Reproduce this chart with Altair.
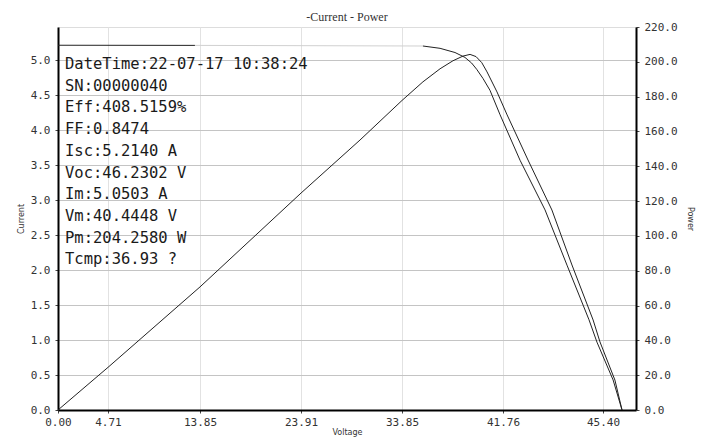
import altair as alt
import pandas as pd

# ---- axis ticks (voltage labels as printed) ----
volt_ticks = [0.00, 4.71, 13.85, 23.91, 33.85, 41.76, 45.40]
# the instrument plots by sample, so the voltage axis is piecewise between labels
x_dom = [0.00, 4.71, 13.85, 23.91, 33.85, 41.76, 45.40, 46.84]
x_rng = [0, 50, 142, 243, 344, 445, 545, 578]

cur_ticks = [0.0, 0.5, 1.0, 1.5, 2.0, 2.5, 3.0, 3.5, 4.0, 4.5, 5.0]
pow_ticks = [0, 20, 40, 60, 80, 100, 120, 140, 160, 180, 200, 220]

# ---- current curve (I-V) ----
cur_v = [0.00, 13.35, 13.35, 35.49, 35.49, 36.83, 38.00, 38.78, 39.30, 39.70, 40.19,
         40.74, 41.53, 42.38, 43.29, 44.09, 44.89, 45.18, 45.84, 46.23]
cur_i = [5.214, 5.212, 5.212, 5.203, 5.203, 5.17, 5.11, 5.04, 4.96, 4.87, 4.74,
         4.57, 4.22, 3.57, 2.86, 2.07, 1.29, 0.97, 0.43, 0.00]
cur_seg = ["A", "A", "B", "B", "C", "C", "C", "C", "C", "C", "C",
           "C", "C", "C", "C", "C", "C", "C", "C", "C"]

# ---- power curve (P-V) ----
pow_v = [0.00, 4.71, 13.85, 23.91, 29.72, 33.85, 35.49, 36.83, 37.84, 38.63, 39.18,
         39.65, 40.10, 40.51, 41.29, 41.91, 42.67, 43.54, 44.27, 45.04, 45.29, 45.92, 46.23]
pow_p = [0.0, 24.5, 70.7, 124.6, 155.1, 177.8, 188.5, 196.0, 200.6, 203.3, 204.26,
         203.0, 199.5, 194.2, 182.7, 169.5, 143.6, 114.9, 83.3, 51.7, 39.1, 17.2, 0.0]

info_lines = [
    "DateTime:22-07-17 10:38:24",
    "SN:00000040",
    "Eff:408.5159%",
    "FF:0.8474",
    "Isc:5.2140 A",
    "Voc:46.2302 V",
    "Im:5.0503 A",
    "Vm:40.4448 V",
    "Pm:204.2580 W",
    "Tcmp:36.93 ?",
]

cur_df = pd.DataFrame({"V": cur_v, "I": cur_i, "seg": cur_seg})
pow_df = pd.DataFrame({"V": pow_v, "P": pow_p})
txt_df = pd.DataFrame({"t": ["\n".join(info_lines)]})

LABEL_FONT = "DejaVu Sans Mono"
axis_common = dict(
    labelFont=LABEL_FONT, labelFontSize=11, labelColor="#333333",
    titleFont="DejaVu Sans", titleFontSize=8, titleFontWeight="normal", titleColor="#333333",
    domainColor="black", domainWidth=2, tickColor="#444444", tickSize=3,
)

X = alt.X(
    "V:Q",
    scale=alt.Scale(domain=x_dom, range=x_rng, nice=False, clamp=True),
    axis=alt.Axis(
        values=volt_ticks, format=".2f", title="Voltage", labelFlush=False,
        grid=True, gridColor="#e2e2e2", labelPadding=3, titlePadding=1,
        **axis_common,
    ),
)

cur = alt.Chart(cur_df).mark_line(strokeWidth=1, interpolate="linear").encode(
    x=X,
    y=alt.Y(
        "I:Q",
        scale=alt.Scale(domain=[0, 5.4747], nice=False, zero=True),
        axis=alt.Axis(
            orient="left", values=cur_ticks, format=".1f", title="Current",
            grid=True, gridColor="#c4c4c4", labelPadding=5, titlePadding=5,
            **axis_common,
        ),
    ),
    color=alt.Color(
        "seg:N",
        scale=alt.Scale(domain=["A", "B", "C"], range=["#222222", "#d0d0d0", "#222222"]),
        legend=None,
    ),
)

pw = alt.Chart(pow_df).mark_line(strokeWidth=1, color="#222222", interpolate="linear").encode(
    x=X,
    y=alt.Y(
        "P:Q",
        scale=alt.Scale(domain=[0, 220], nice=False, zero=True),
        axis=alt.Axis(
            orient="right", values=pow_ticks, format=".1f", title="Power",
            grid=False, labelPadding=5, titlePadding=8,
            **axis_common,
        ),
    ),
)

txt = alt.Chart(txt_df).mark_text(
    align="left", baseline="top", lineBreak="\n", lineHeight=21.7,
    font="DejaVu Sans Mono", fontSize=15.5, color="#1a1a1a",
).encode(text="t:N", x=alt.value(7), y=alt.value(30))

chart = (
    alt.layer(cur, pw, txt)
    .resolve_scale(y="independent", color="independent")
    .properties(
        width=578, height=383,
        title=alt.TitleParams("-Current - Power", font="Liberation Serif", fontSize=12,
                              fontWeight="normal", color="#333333", offset=0, dy=3),
        autosize=alt.AutoSizeParams(type="none"),
        padding={"left": 50, "top": 19, "right": 64, "bottom": 27},
    )
    .configure_view(stroke="black", strokeWidth=2)
    .configure(background="white")
)

chart.save("out.html", embed_options={"renderer": "svg", "actions": False})
